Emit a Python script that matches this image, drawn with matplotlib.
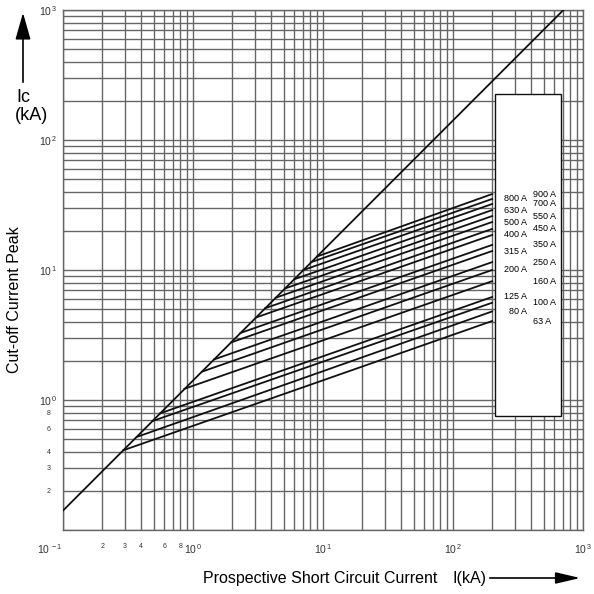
import matplotlib
matplotlib.use("Agg")
import matplotlib.pyplot as plt
from matplotlib.patches import Rectangle

plt.rcParams['font.family'] = ['Liberation Sans', 'DejaVu Sans']
plt.rcParams['mathtext.fontset'] = 'custom'
plt.rcParams['mathtext.rm'] = 'Liberation Sans'

# unlimited peak line (Ic = sqrt(2) * I)
diag_i = [0.1, 707]
diag_ic = [0.141, 1000]

# fuse cut-off lines: leave the diagonal at knee, end at 200 kA
ratings = [63, 80, 100, 125, 160, 200, 250, 315, 350, 400, 450, 500, 550, 630, 700, 800, 900]
knee_i = [0.29, 0.37, 0.49, 0.56, 0.86, 1.17, 1.45, 1.96, 2.32, 3.05, 3.59, 4.33, 5.09, 6.0, 7.08, 8.13, 9.0]
knee_ic = [0.41, 0.52, 0.69, 0.79, 1.22, 1.65, 2.05, 2.77, 3.28, 4.31, 5.08, 6.12, 7.2, 8.48, 10.0, 11.5, 12.7]
end_i = 200
end_ic = [4.05, 4.8, 5.6, 6.2, 8.2, 10.0, 11.5, 14.0, 15.6, 18.6, 20.7, 23.4, 26.0, 28.9, 32.2, 35.2, 38.4]
left_col = [800, 630, 500, 400, 315, 200, 125, 80]

major_ticks = [0.1, 1, 10, 100, 1000]
x_major_labels = [r'$\mathregular{10^{\,-1}}$', r'$\mathregular{10^{\,0}}$', r'$\mathregular{10^{\,1}}$',
                  r'$\mathregular{10^{\,2}}$', r'$\mathregular{10^{\,3}}$']
y_major_labels = [''] + x_major_labels[1:]
minor_labels = {0.2: '2', 0.3: '3', 0.4: '4', 0.6: '6', 0.8: '8'}

fig = plt.figure(figsize=(5.94, 5.94), dpi=100)
ax = fig.add_axes([63/594, 64/594, 520/594, 520/594])
ax.set_xscale('log')
ax.set_yscale('log')
ax.set_xlim(0.1, 1000)
ax.set_ylim(0.1, 1000)

minor = [m * 10.0**e for e in range(-1, 3) for m in range(2, 10)]
minor_txt = [minor_labels.get(round(v, 3), '') for v in minor]

for axis, labels in ((ax.xaxis, x_major_labels), (ax.yaxis, y_major_labels)):
    axis.set_ticks(major_ticks)
    axis.set_ticklabels(labels)
    axis.set_ticks(minor, minor=True)
    axis.set_ticklabels(minor_txt, minor=True)

ax.tick_params(which='both', length=0, colors='#333333')
ax.tick_params(which='major', labelsize=7.5)
ax.tick_params(which='minor', labelsize=5)
ax.tick_params(axis='x', which='both', pad=9)
ax.tick_params(axis='y', which='major', pad=4)
ax.tick_params(axis='y', which='minor', pad=9)
ax.get_xticklabels()[0].set_horizontalalignment('right')

ax.grid(True, which='both', color='#666666', linewidth=1.0)
for s in ax.spines.values():
    s.set_color('#666666')
    s.set_linewidth(1.0)

ax.plot(diag_i, diag_ic, color='#111111', lw=1.3, zorder=3)
for r, ki, kc, ec in zip(ratings, knee_i, knee_ic, end_ic):
    ax.plot([ki, end_i], [kc, ec], color='#111111', lw=1.3, zorder=3)

ax.add_patch(Rectangle((210, 0.75), 678 - 210, 226 - 0.75, facecolor='white',
                       edgecolor='#111111', lw=1.0, zorder=4))
for r, ec in zip(ratings, end_ic):
    if r in left_col:
        ax.text(371, ec, f'{r} A', ha='right', va='center', fontsize=6.5, zorder=5)
    else:
        ax.text(412, ec, f'{r} A', ha='left', va='center', fontsize=6.5, zorder=5)

fig.text(15/594, 1 - 300/594, 'Cut-off Current Peak', rotation=90,
         ha='center', va='center', fontsize=11.5)
fig.text(16/594, 1 - 97/594, 'Ic', ha='left', va='center', fontsize=13)
fig.text(15/594, 1 - 116/594, '(kA)', ha='left', va='center', fontsize=13)
ax.annotate('', xy=(23, 584), xycoords='figure pixels', xytext=(23, 509),
            textcoords='figure pixels',
            arrowprops=dict(arrowstyle='-|>,head_length=1.65,head_width=0.47',
                            mutation_scale=10, color='black', lw=1.2))

fig.text(437/594, 16/594, 'Prospective Short Circuit Current', ha='right',
         va='center', fontsize=11.5)
fig.text(452/594, 16/594, 'I(kA)', ha='left', va='center', fontsize=11.5)
ax.annotate('', xy=(583, 16), xycoords='figure pixels', xytext=(487, 16),
            textcoords='figure pixels',
            arrowprops=dict(arrowstyle='-|>,head_length=1.5,head_width=0.35',
                            mutation_scale=10, color='black', lw=1.2))

fig.savefig('out.png', dpi=100, facecolor='white')
